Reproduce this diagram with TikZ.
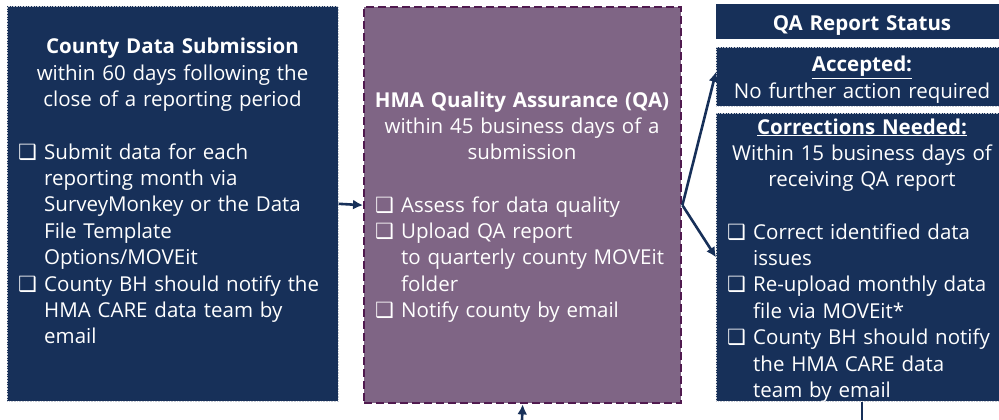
\documentclass[tikz,border=0pt]{standalone}
\usepackage{fontspec}
\setmainfont{Open Sans}
\newfontfamily\symfont{DejaVu Sans}
\usetikzlibrary{arrows.meta}
\definecolor{navy}{HTML}{173059}
\definecolor{plum}{HTML}{7F6585}
\definecolor{plumedge}{HTML}{501A4F}
\definecolor{rim}{HTML}{C9CDD5}
% check box bullet and hanging indent for wrapped lines
\newcommand\chk{\makebox[26pt][l]{\symfont\bfseries\fontsize{21}{21}\selectfont ❑}}
\newcommand\indt{\hspace*{26pt}}
\tikzset{
  navybox/.style={fill=navy, draw=rim, line width=0.6pt, densely dotted, inner sep=0pt, anchor=north west},
  qabox/.style={fill=plum, draw=plumedge, line width=2.4pt, dash pattern=on 8pt off 4pt, inner sep=0pt, anchor=north west},
  txt/.style={text=white, font=\fontsize{20.5}{26.4}\selectfont, inner sep=0pt},
  head/.style={txt, anchor=base, align=center, text width=330pt},
  list/.style={txt, anchor=base west, align=left, text width=330pt},
  flow/.style={draw=navy, line width=2.6pt, -{Latex[length=10pt,width=10pt]}},
}
\begin{document}
\begin{tikzpicture}[x=1pt,y=-1pt]
\useasboundingbox (0,0) rectangle (999,420);

% boxes
\node[navybox, minimum width=331pt, minimum height=395pt] (sub) at (7,6) {};
\node[qabox, minimum width=317pt, minimum height=396pt] (qa) at (363,6) {};
\node[fill=navy, inner sep=0pt, anchor=north west, minimum width=284pt, minimum height=35pt] (status) at (716,4) {};
\node[navybox, minimum width=284pt, minimum height=59pt] (acc) at (716,47) {};
\node[navybox, minimum width=284pt, minimum height=288pt] (corr) at (716,113) {};

% county submission
\node[head] (subhead) at (172.5,54) {\textbf{County Data Submission}\\within 60 days following the\\close of a reporting period};
\node[list] (sublist) at (18,159) {\chk Submit data for each\\\indt reporting month via\\\indt SurveyMonkey or the Data\\\indt File Template\\\indt Options/MOVEit\\\chk County BH should notify the\\\indt HMA CARE data team by\\\indt email};

% quality assurance
\node[head] (qahead) at (522,107) {\textbf{HMA Quality Assurance (QA)}\\within 45 business days of a\\submission};
\node[list] (qalist) at (375,212) {\chk Assess for data quality\\\chk Upload QA report\\\indt to quarterly county MOVEit\\\indt folder\\\chk Notify county by email};

% report status
\node[head] (stathead) at (862,31) {\textbf{QA Report Status}};
\node[head] (acchead) at (862,72) {\underline{\textbf{Accepted:}}\\No further action required};
\node[head] (corrhead) at (862,134) {\underline{\textbf{Corrections Needed:}}\\Within 15 business days of\\receiving QA report};
\node[list] (corrlist) at (727,239) {\chk Correct identified data\\\indt issues\\\chk Re-upload monthly data\\\indt file via MOVEit*\\\chk County BH should notify\\\indt the HMA CARE data\\\indt team by email};

% connectors
\coordinate (loopin) at (522,420);
\coordinate (loopout) at (862,420);
\draw[flow] (sub.east) -- (qa.west);
\draw[flow] (qa.east) -- ([yshift=5pt]acc.west);
\draw[flow] (qa.east) -- (corr.west);
\draw[flow] (loopin) -- (qa.south);
\draw[draw=navy, line width=2.6pt] (corr.south -| loopout) -- (loopout);
\end{tikzpicture}
\end{document}
